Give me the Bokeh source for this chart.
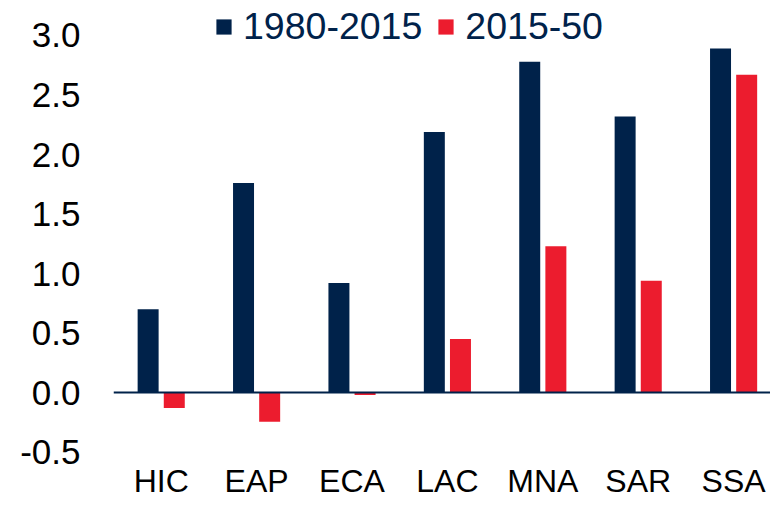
from bokeh.plotting import figure
from bokeh.models import (ColumnDataSource, Range1d, Span, Legend, LegendItem,
                          FixedTicker, PrintfTickFormatter)
from bokeh.transform import dodge
from bokeh.embed import file_html
from bokeh.resources import INLINE

regions = ["HIC", "EAP", "ECA", "LAC", "MNA", "SAR", "SSA"]
series_names = ["1980-2015", "2015-50"]
growth_1980_2015 = [0.70, 1.76, 0.92, 2.19, 2.78, 2.32, 2.89]
growth_2015_50 = [-0.13, -0.245, -0.02, 0.45, 1.23, 0.94, 2.67]
y_ticks = [-0.5, 0.0, 0.5, 1.0, 1.5, 2.0, 2.5, 3.0]

NAVY = "#00224A"
RED = "#EC1C2E"

positions = [i + 0.5 for i in range(len(regions))]
source = ColumnDataSource(dict(pos=positions, region=regions,
                               a=growth_1980_2015, b=growth_2015_50))

p = figure(frame_width=657, frame_height=462,
           x_range=Range1d(0, 657 / 95.4), y_range=Range1d(-0.588, 3.294),
           output_backend="svg", toolbar_location=None,
           min_border_left=113, min_border_right=0, min_border_top=0, min_border_bottom=0)
p.outline_line_color = None
p.xgrid.grid_line_color = None
p.ygrid.grid_line_color = None

r1 = p.vbar(x=dodge("pos", -0.137), top="a", bottom=0, width=0.22,
            source=source, fill_color=NAVY, line_color=None)
r2 = p.vbar(x=dodge("pos", 0.137), top="b", bottom=0, width=0.22,
            source=source, fill_color=RED, line_color=None)

p.add_layout(Span(location=0, dimension="width", line_color=NAVY, line_width=2))

yax = p.yaxis[0]
yax.ticker = FixedTicker(ticks=y_ticks)
yax.formatter = PrintfTickFormatter(format="%.1f")
yax.axis_line_color = None
yax.major_tick_line_color = None
yax.minor_tick_line_color = None
yax.major_tick_out = 0
yax.major_label_standoff = 33
yax.major_label_text_font = "Liberation Sans"
yax.major_label_text_font_size = "35px"
yax.major_label_text_color = "#000000"

xax = p.xaxis[0]
xax.ticker = FixedTicker(ticks=positions)
xax.major_label_overrides = {pos: name for pos, name in zip(positions, regions)}
xax.axis_line_color = None
xax.major_tick_line_color = None
xax.minor_tick_line_color = None
xax.major_tick_out = 0
xax.major_label_standoff = 0
xax.major_label_text_font = "Liberation Sans"
xax.major_label_text_font_size = "32px"
xax.major_label_text_color = "#000000"

legend = Legend(items=[LegendItem(label=series_names[0], renderers=[r1]),
                       LegendItem(label=series_names[1], renderers=[r2])],
                orientation="horizontal", location=(101, 414),
                glyph_width=19, glyph_height=19, label_standoff=10, spacing=14,
                padding=0, margin=0, border_line_color=None, background_fill_alpha=0,
                label_text_font="Liberation Sans", label_text_font_size="37.5px",
                label_text_color=NAVY)
p.add_layout(legend)

open("out.html", "w").write(file_html(p, INLINE))
